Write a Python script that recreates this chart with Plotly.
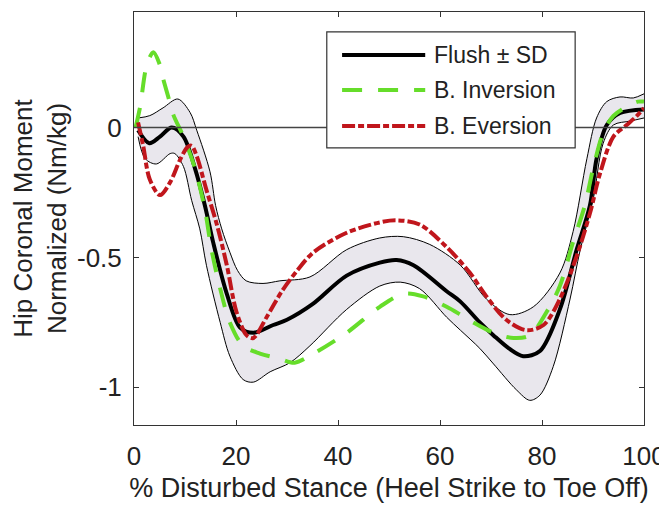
import plotly.graph_objects as go

# ---------------- data ----------------
mean_x = [0.8, 3, 5.1, 7.4, 9.7, 12, 13.9, 15.5, 18.2, 20.8, 23.4, 27.3, 30, 35, 41.7, 48.2,
          51.5, 54.8, 61.3, 64, 67.8, 70.5, 73.5, 76.3, 79.6, 83.5, 86.8, 89.4, 90.7, 92.7, 95.3, 100]
mean_y = [-0.01, -0.06, -0.035, 0.0, -0.035, -0.16, -0.30, -0.44, -0.64, -0.77, -0.79, -0.76, -0.74,
          -0.68, -0.57, -0.52, -0.51, -0.53, -0.63, -0.67, -0.75, -0.80, -0.85, -0.88, -0.86, -0.70,
          -0.47, -0.30, -0.12, 0.01, 0.056, 0.07]

upper_x = [0.8, 3.1, 5.7, 8.6, 11, 12.3, 14.9, 16, 17.2, 18.8, 20.3, 22, 25.3, 28.6, 34.5, 41.7,
           48.2, 52.8, 58, 64, 69.1, 73.7, 78.3, 83.5, 86.1, 88.8, 90.7, 92.7, 95.3, 97.9, 100]
upper_y = [0.037, 0.046, 0.076, 0.11, 0.058, -0.01, -0.17, -0.30, -0.39, -0.48, -0.55, -0.59, -0.60,
           -0.59, -0.575, -0.47, -0.425, -0.42, -0.45, -0.53, -0.66, -0.72, -0.69, -0.56, -0.40,
           -0.12, 0.037, 0.10, 0.118, 0.114, 0.13]

lower_x = [0.8, 2.2, 4.4, 7.1, 8, 9.7, 11.3, 12.9, 14.2, 16.9, 18.8, 21.4, 23.4, 26.7, 30.6, 34.5,
           41.7, 48.2, 52.2, 56, 61.3, 64, 67.8, 70.5, 75, 77.6, 79.6, 82.2, 85.5, 87.5, 90, 92,
           94, 97.3, 100]
lower_y = [-0.035, -0.12, -0.14, -0.10, -0.10, -0.15, -0.28, -0.39, -0.53, -0.75, -0.88, -0.97,
           -0.98, -0.94, -0.905, -0.84, -0.70, -0.61, -0.595, -0.62, -0.73, -0.78, -0.85, -0.91,
           -1.01, -1.05, -1.03, -0.92, -0.66, -0.47, -0.28, -0.06, 0.01, 0.025, 0.037]

inv_x = [0.3, 1.2, 2.5, 3.8, 5, 5.75, 6.7, 7.7, 9.7, 12, 13.9, 15.2, 16.9, 18.8, 21.4, 24.7, 28.6,
         31.5, 35.2, 41.7, 48.2, 52.8, 56.7, 61.3, 64, 66.5, 70.5, 74.4, 77.6, 80.9, 83.5, 86.1,
         88.4, 90, 92, 94, 96.6, 98.8, 100]
inv_y = [0.0, 0.08, 0.24, 0.29, 0.245, 0.185, 0.12, 0.05, -0.035, -0.16, -0.315, -0.47, -0.62,
         -0.75, -0.84, -0.87, -0.89, -0.905, -0.87, -0.79, -0.69, -0.64, -0.65, -0.69, -0.72, -0.75,
         -0.79, -0.81, -0.80, -0.71, -0.61, -0.44, -0.30, -0.16, -0.02, 0.045, 0.08, 0.10, 0.10]

ev_x = [0.8, 1.8, 3.1, 5.1, 7.1, 9, 10.5, 11.3, 12.3, 14.2, 16.2, 18.2, 20.1, 22.1, 23.4, 26, 29,
        32, 35.2, 41.7, 48.2, 51.5, 56, 61.3, 65.9, 69.1, 73, 76.9, 80.3, 83.5, 86.8, 89.4, 91.4,
        94, 96.6, 98.6, 100]
ev_y = [0.02, -0.07, -0.2, -0.26, -0.21, -0.125, -0.075, -0.07, -0.11, -0.24, -0.37, -0.53, -0.71,
        -0.80, -0.81, -0.73, -0.63, -0.55, -0.48, -0.405, -0.365, -0.357, -0.373, -0.46, -0.56,
        -0.65, -0.74, -0.78, -0.76, -0.66, -0.495, -0.33, -0.175, -0.035, 0.01, 0.045, 0.075]

x_ticks = [0, 20, 40, 60, 80, 100]
x_ticktext = ["0", "20", "40", "60", "80", "100"]
y_ticks = [-1, -0.5, 0]
y_ticktext = ["-1", "-0.5", "0"]

legend_labels = ["Flush \u00b1 SD", "B. Inversion", "B. Eversion"]

# ---------------- styles ----------------
FONT = "Liberation Sans, Arial, sans-serif"
BLACK = "#000000"
GREEN = "#66dd2a"
RED = "#c0161c"
BAND = "rgb(233,231,237)"
DASH_G = "20px,16px"
DASH_R = "13px,3px,6px,3px"

fig = go.Figure()
SM = 0.9
fig.add_trace(go.Scatter(x=upper_x, y=upper_y, mode="lines",
                         line=dict(color=BLACK, width=1, shape="spline", smoothing=SM),
                         showlegend=False, hoverinfo="skip"))
fig.add_trace(go.Scatter(x=lower_x, y=lower_y, mode="lines", fill="tonexty", fillcolor=BAND,
                         line=dict(color=BLACK, width=1, shape="spline", smoothing=SM),
                         showlegend=False, hoverinfo="skip"))
fig.add_trace(go.Scatter(x=mean_x, y=mean_y, mode="lines", name=legend_labels[0],
                         line=dict(color=BLACK, width=4, shape="spline", smoothing=SM),
                         showlegend=False))
fig.add_trace(go.Scatter(x=inv_x, y=inv_y, mode="lines", name=legend_labels[1],
                         line=dict(color=GREEN, width=4, dash=DASH_G, shape="spline", smoothing=SM),
                         showlegend=False))
fig.add_trace(go.Scatter(x=ev_x, y=ev_y, mode="lines", name=legend_labels[2],
                         line=dict(color=RED, width=4, dash=DASH_R, shape="spline", smoothing=SM),
                         showlegend=False))

# zero reference line
shapes = [dict(type="line", xref="x", yref="y", x0=0, x1=100, y0=0, y1=0,
               line=dict(color="#444444", width=1.5), layer="above")]

# legend box (drawn manually to match the long line samples)
L_X0, L_X1, L_Y0, L_Y1 = 0.378, 0.865, 0.671, 0.952
shapes.append(dict(type="rect", xref="paper", yref="paper", x0=L_X0, x1=L_X1, y0=L_Y0, y1=L_Y1,
                   fillcolor="white", line=dict(color="#333333", width=1.2), layer="above"))
rows_y = [0.896, 0.811, 0.724]
colors = [BLACK, GREEN, RED]
dashes = ["solid", DASH_G, DASH_R]
annotations = []
for ly, c, d, lab in zip(rows_y, colors, dashes, legend_labels):
    shapes.append(dict(type="line", xref="paper", yref="paper", x0=0.408, x1=0.571, y0=ly, y1=ly,
                       line=dict(color=c, width=4, dash=d), layer="above"))
    annotations.append(dict(xref="paper", yref="paper", x=0.584, y=ly, text=lab, showarrow=False,
                            xanchor="left", yanchor="middle",
                            font=dict(family=FONT, size=23, color="#222222")))

# the page body has an 8px default margin, so the figure is shrunk by 8px on left/top
fig.update_layout(
    width=659, height=497,
    margin=dict(l=126, r=23, t=4, b=80),
    paper_bgcolor="white", plot_bgcolor="white",
    font=dict(family=FONT, size=26, color="#222222"),
    shapes=shapes, annotations=annotations,
    showlegend=False,
)
fig.update_xaxes(range=[0, 100], tickvals=x_ticks, ticktext=x_ticktext, automargin=False,
                 showline=True, linecolor="#333333", linewidth=1, mirror="ticks",
                 ticks="inside", ticklen=5, tickcolor="#333333", showgrid=False, zeroline=False,
                 ticklabelstandoff=8, tickfont=dict(size=26),
                 title=dict(text="% Disturbed Stance (Heel Strike to Toe Off)", standoff=7,
                            font=dict(size=27)))
fig.update_yaxes(range=[-1.145, 0.445], tickvals=y_ticks, ticktext=y_ticktext, automargin=False,
                 showline=True, linecolor="#333333", linewidth=1, mirror="ticks",
                 ticks="inside", ticklen=5, tickcolor="#333333", showgrid=False, zeroline=False,
                 ticklabelstandoff=6, tickfont=dict(size=26),
                 title=dict(text="Hip Coronal Moment<br>Normalized (Nm/kg)", standoff=4,
                            font=dict(size=26)))

fig.write_html("out.html")
